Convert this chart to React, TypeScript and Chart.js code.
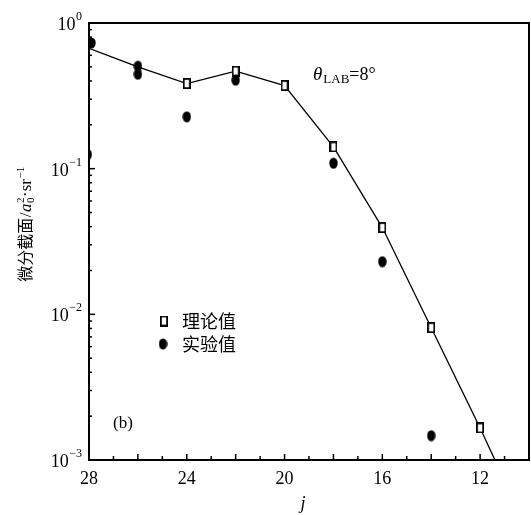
import { useEffect, useRef } from 'react';
import { Chart, registerables } from 'chart.js';
Chart.register(...registerables);

// ---- data ----
const theoryJ = [28, 26, 24, 22, 20, 18, 16, 14, 12, 11];
const theoryValues = [0.67, 0.5, 0.384, 0.467, 0.372, 0.141, 0.0394, 0.0081, 0.00166, 0.00072];
const theoryMarked = [false, false, true, true, true, true, true, true, true, false];
const expJ = [27.9, 28.05, 26, 26, 24, 22, 18, 16, 14];
const expValues = [0.73, 0.125, 0.505, 0.445, 0.227, 0.405, 0.109, 0.023, 0.00147];
const xTickLabels = [28, 24, 20, 16, 12];
const yTickExponents = [0, -1, -2, -3];
const minorMultipliers = [1, 2, 3, 4, 5, 6, 7, 8, 9];
const legendLabels = ['理论值', '实验值'];
const annotationLabel = '(b)';

const SERIF = '"Liberation Serif", "DejaVu Serif", serif';
const CJK = '"Noto Sans CJK SC", "Noto Sans CJK JP", sans-serif';

function makeSquare() {
  const c = document.createElement('canvas');
  c.width = 8;
  c.height = 11;
  const g = c.getContext('2d')!;
  g.fillStyle = '#fff';
  g.fillRect(0, 0, 8, 11);
  g.strokeStyle = '#000';
  g.lineWidth = 1.8;
  g.strokeRect(0.9, 0.9, 6.2, 9.2);
  return c;
}

function makeDot() {
  const c = document.createElement('canvas');
  c.width = 9;
  c.height = 12;
  const g = c.getContext('2d')!;
  g.fillStyle = '#000';
  g.beginPath();
  g.ellipse(4.5, 6, 4.2, 5.6, 0, 0, Math.PI * 2);
  g.fill();
  return c;
}

export default function App() {
  const ref = useRef<HTMLCanvasElement | null>(null);

  useEffect(() => {
    const canvas = ref.current;
    if (!canvas) return;
    const square = makeSquare();
    const dot = makeDot();

    const decor = {
      id: 'decor',
      afterDraw(chart: any) {
        const { ctx, chartArea: a } = chart;
        const xs = chart.scales.x;
        const ys = chart.scales.y;
        ctx.save();
        ctx.strokeStyle = '#000';
        ctx.fillStyle = '#000';

        // x ticks (inward)
        ctx.lineWidth = 1.5;
        for (let j = Math.ceil(xs.min); j <= xs.max; j++) {
          const px = xs.getPixelForValue(j);
          const len = j % 2 === 0 ? 6 : 4;
          ctx.beginPath();
          ctx.moveTo(px, a.bottom);
          ctx.lineTo(px, a.bottom - len);
          ctx.stroke();
        }
        // y ticks (inward)
        for (const e of yTickExponents) {
          for (const m of minorMultipliers) {
            const v = m * Math.pow(10, e);
            if (v > ys.max + 1e-12) continue;
            const py = ys.getPixelForValue(v);
            const len = m === 1 ? 6 : 3;
            ctx.beginPath();
            ctx.moveTo(a.left, py);
            ctx.lineTo(a.left + len, py);
            ctx.stroke();
          }
        }

        // frame
        ctx.lineWidth = 2;
        ctx.strokeRect(a.left, a.top, a.right - a.left, a.bottom - a.top);

        // y tick labels 10^e
        for (const e of yTickExponents) {
          const py = ys.getPixelForValue(Math.pow(10, e));
          const expText = e === 0 ? '0' : '\u2212' + String(-e);
          ctx.font = `12px ${SERIF}`;
          const we = ctx.measureText(expText).width;
          const right = 82;
          ctx.textAlign = 'left';
          ctx.textBaseline = 'alphabetic';
          ctx.fillText(expText, right - we, py - 3);
          ctx.font = `18px ${SERIF}`;
          ctx.textAlign = 'right';
          ctx.fillText('10', right - we - 0.5, py + 7);
        }

        // y axis title (rotated)
        ctx.save();
        ctx.translate(31, 224);
        ctx.rotate(-Math.PI / 2);
        ctx.textAlign = 'left';
        ctx.textBaseline = 'alphabetic';
        const segs: { t: string; f: string; dy: number; stackWith?: { t: string; dy: number } }[] = [
          { t: '微分截面', f: `16px ${CJK}`, dy: 0 },
          { t: '/', f: `17px ${SERIF}`, dy: 0 },
          { t: 'a', f: `italic 17px ${SERIF}`, dy: 0 },
          { t: '2', f: `11px ${SERIF}`, dy: -7, stackWith: { t: '0', dy: 3 } },
          { t: '\u00b7sr', f: `17px ${SERIF}`, dy: 0 },
          { t: '\u22121', f: `11px ${SERIF}`, dy: -7 },
        ];
        let total = 0;
        const widths: number[] = [];
        for (const s of segs) {
          ctx.font = s.f;
          let w = ctx.measureText(s.t).width;
          if (s.stackWith) w = Math.max(w, ctx.measureText(s.stackWith.t).width);
          widths.push(w + 0.5);
          total += w + 0.5;
        }
        let cx = -total / 2;
        segs.forEach((s, i) => {
          ctx.font = s.f;
          ctx.fillText(s.t, cx, s.dy);
          if (s.stackWith) ctx.fillText(s.stackWith.t, cx, s.stackWith.dy);
          cx += widths[i];
        });
        ctx.restore();

        // x axis title
        ctx.font = `italic 18px ${SERIF}`;
        ctx.textAlign = 'center';
        ctx.textBaseline = 'alphabetic';
        ctx.fillText('j', (xs.left + xs.right) / 2 - 6, 509);

        // theta annotation
        ctx.textAlign = 'left';
        let tx = 313;
        ctx.font = `italic 19px ${SERIF}`;
        ctx.fillText('\u03b8', tx, 80);
        tx += ctx.measureText('\u03b8').width + 1;
        ctx.font = `13px ${SERIF}`;
        ctx.fillText('LAB', tx, 83);
        tx += ctx.measureText('LAB').width;
        ctx.font = `18px ${SERIF}`;
        ctx.fillText('=8\u00b0', tx, 80);

        // legend
        ctx.drawImage(square, 164 - square.width / 2, 321 - square.height / 2);
        ctx.drawImage(dot, 163 - dot.width / 2, 344 - dot.height / 2);
        ctx.font = `18px ${CJK}`;
        ctx.textBaseline = 'middle';
        ctx.fillText(legendLabels[0], 182, 321);
        ctx.fillText(legendLabels[1], 182, 344);

        // panel label
        ctx.font = `17px ${SERIF}`;
        ctx.fillText(annotationLabel, 113, 424);
        ctx.restore();
      },
    };

    const chart = new Chart(canvas, {
      type: 'scatter',
      data: {
        datasets: [
          {
            label: legendLabels[1],
            data: expJ.map((x, i) => ({ x, y: expValues[i] })),
            pointStyle: dot as any,
            pointRadius: 5,
            showLine: false,
            clip: 0,
            order: 0,
          },
          {
            label: legendLabels[0],
            data: theoryJ.map((x, i) => ({ x, y: theoryValues[i] })),
            showLine: true,
            borderColor: '#000',
            borderWidth: 1.3,
            pointStyle: square as any,
            pointRadius: (c: any) => (theoryMarked[c.dataIndex] ? 5 : 0),
            tension: 0,
            clip: 0,
            order: 1,
          } as any,
        ],
      },
      options: {
        animation: false,
        responsive: false,
        events: [],
        layout: { autoPadding: false, padding: { top: 23, right: 2, left: 0, bottom: 0 } },
        plugins: { legend: { display: false }, tooltip: { enabled: false } },
        scales: {
          x: {
            type: 'linear',
            min: 10,
            max: 28,
            reverse: true,
            grid: { display: false, drawTicks: false },
            border: { display: false },
            ticks: {
              stepSize: 1,
              autoSkip: false,
              maxRotation: 0,
              padding: 8,
              color: '#000',
              font: { family: SERIF, size: 18 },
              callback: (v: any) => (xTickLabels.includes(Number(v)) ? String(v) : ''),
            },
            afterFit: (s: any) => {
              s.height = 55;
              s.paddingLeft = 0;
              s.paddingRight = 0;
            },
          },
          y: {
            type: 'logarithmic',
            min: 0.001,
            max: 1,
            grid: { display: false, drawTicks: false },
            border: { display: false },
            ticks: { display: false },
            afterFit: (s: any) => {
              s.width = 89;
              s.paddingTop = 0;
              s.paddingBottom = 0;
            },
          },
        },
      },
      plugins: [decor],
    } as any);

    return () => chart.destroy();
  }, []);

  return (
    <div style={{ position: 'absolute', left: 0, top: 0, width: 531, height: 515, background: '#fff' }}>
      <canvas ref={ref} width={531} height={515} style={{ display: 'block' }} />
    </div>
  );
}
